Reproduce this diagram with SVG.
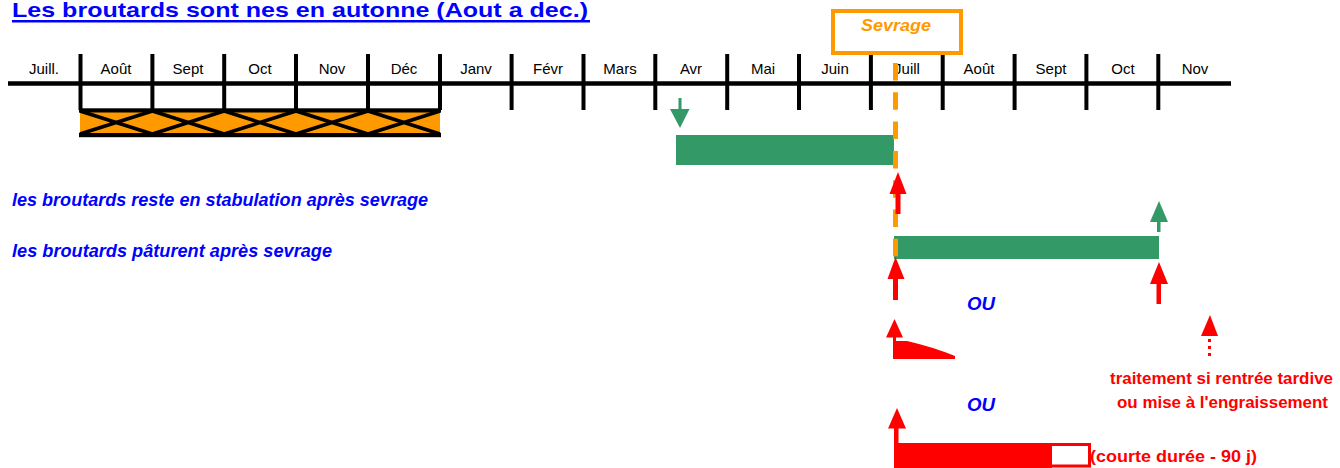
<svg xmlns="http://www.w3.org/2000/svg" width="1340" height="468" viewBox="0 0 1340 468">
  <style>
    .month { font-family: "Liberation Sans", Arial, sans-serif; font-size: 15px; fill: #000; text-anchor: middle; }
    .tick { stroke: #000; stroke-width: 4; }
    .blue { font-family: "Liberation Sans", Arial, sans-serif; font-style: italic; font-weight: bold; fill: #0000FF; }
    .red { font-family: "Liberation Sans", Arial, sans-serif; font-weight: bold; fill: #FF0000; }
    .redfill { fill: #FF0000; }
    .greenfill { fill: #339966; }
    .hatch { stroke: #000; stroke-width: 3.5; fill: none; }
  </style>

  <rect width="1340" height="468" fill="#FFFFFF"/>

  <!-- title -->
  <g id="title">
    <text x="12" y="17" font-family="'Comic Sans MS', 'Liberation Sans', sans-serif" font-weight="bold" font-size="21" fill="#0000FF" textLength="576" lengthAdjust="spacingAndGlyphs">Les broutards sont nes en autonne (Aout a dec.)</text>
    <rect x="12" y="20" width="578" height="2.5" fill="#0000FF"/>
  </g>

  <!-- month timeline -->
  <g id="timeline">
    <line x1="8" y1="83.5" x2="1231" y2="83.5" stroke="#000" stroke-width="4.5"/>
    <g class="tick">
      <line x1="80.5" y1="54" x2="80.5" y2="110"/>
      <line x1="152.4" y1="54" x2="152.4" y2="110"/>
      <line x1="224.2" y1="54" x2="224.2" y2="110"/>
      <line x1="296" y1="54" x2="296" y2="110"/>
      <line x1="368" y1="54" x2="368" y2="110"/>
      <line x1="440" y1="54" x2="440" y2="110"/>
      <line x1="511.6" y1="54" x2="511.6" y2="110"/>
      <line x1="583.5" y1="54" x2="583.5" y2="110"/>
      <line x1="655.3" y1="54" x2="655.3" y2="110"/>
      <line x1="727.2" y1="54" x2="727.2" y2="110"/>
      <line x1="799" y1="54" x2="799" y2="110"/>
      <line x1="870.9" y1="54" x2="870.9" y2="110"/>
      <line x1="942.7" y1="54" x2="942.7" y2="110"/>
      <line x1="1014.6" y1="54" x2="1014.6" y2="110"/>
      <line x1="1086.4" y1="54" x2="1086.4" y2="110"/>
      <line x1="1158.3" y1="54" x2="1158.3" y2="110"/>
    </g>
    <text class="month" x="44" y="74">Juill.</text>
    <text class="month" x="116" y="74">Août</text>
    <text class="month" x="188" y="74">Sept</text>
    <text class="month" x="260" y="74">Oct</text>
    <text class="month" x="332" y="74">Nov</text>
    <text class="month" x="404" y="74">Déc</text>
    <text class="month" x="476" y="74">Janv</text>
    <text class="month" x="548" y="74">Févr</text>
    <text class="month" x="620" y="74">Mars</text>
    <text class="month" x="691" y="74">Avr</text>
    <text class="month" x="763" y="74">Mai</text>
    <text class="month" x="835" y="74">Juin</text>
    <text class="month" x="907" y="74">Juill</text>
    <text class="month" x="979" y="74">Août</text>
    <text class="month" x="1051" y="74">Sept</text>
    <text class="month" x="1123" y="74">Oct</text>
    <text class="month" x="1195" y="74">Nov</text>
  </g>

  <!-- birth period: hatched band Août to Déc -->
  <g id="birth-period">
    <rect x="80" y="110" width="360" height="25" fill="#FF9900"/>
    <path class="hatch" d="M80,111 L152.4,134 M80,134 L152.4,111 M152.4,111 L224.2,134 M152.4,134 L224.2,111 M224.2,111 L296,134 M224.2,134 L296,111 M296,111 L368,134 M296,134 L368,111 M368,111 L440,134 M368,134 L440,111"/>
    <rect x="79" y="108.3" width="362" height="4.2" fill="#000"/>
    <rect x="79" y="133" width="362" height="4.2" fill="#000"/>
  </g>

  <!-- weaning marker -->
  <g id="sevrage">
    <rect x="833" y="11" width="128" height="42" fill="#FFFFFF" stroke="#FF9900" stroke-width="4"/>
    <text x="896" y="31" font-family="'Liberation Sans', Arial, sans-serif" font-style="italic" font-weight="bold" font-size="17" fill="#FF9900" text-anchor="middle" textLength="70" lengthAdjust="spacingAndGlyphs">Sevrage</text>
  </g>

  <!-- labels -->
  <g id="labels">
    <text class="blue" x="12" y="206" font-size="18" textLength="416" lengthAdjust="spacingAndGlyphs">les broutards reste en stabulation après sevrage</text>
    <text class="blue" x="12" y="257" font-size="18" textLength="320" lengthAdjust="spacingAndGlyphs">les broutards pâturent après sevrage</text>
    <text class="blue" x="967" y="310" font-size="19" font-weight="normal" textLength="28" lengthAdjust="spacingAndGlyphs">OU</text>
    <text class="blue" x="967" y="411" font-size="19" font-weight="normal" textLength="28" lengthAdjust="spacingAndGlyphs">OU</text>
    <text class="red" x="1110" y="384" font-size="17" textLength="223" lengthAdjust="spacingAndGlyphs">traitement si rentrée tardive</text>
    <text class="red" x="1117" y="408" font-size="17" textLength="211" lengthAdjust="spacingAndGlyphs">ou mise à l'engraissement</text>
    <text class="red" x="1090" y="462" font-size="17" textLength="167" lengthAdjust="spacingAndGlyphs">(courte durée - 90 j)</text>
  </g>

  <!-- housing period before weaning -->
  <g id="stabulation-bar">
    <rect class="greenfill" x="676" y="135" width="218" height="30"/>
  </g>

  <!-- grazing period after weaning -->
  <g id="paturage-bar">
    <rect class="greenfill" x="894" y="236" width="265" height="23"/>
  </g>

  <!-- tapering treatment -->
  <g id="traitement-degressif">
    <path class="redfill" d="M893,341 L907,341 Q933,347 955,356 L955,359 L893,359 Z"/>
  </g>

  <!-- short-duration treatment -->
  <g id="traitement-court">
    <rect x="895.5" y="444.5" width="194" height="21.5" fill="#FFFFFF" stroke="#FF0000" stroke-width="3"/>
    <rect class="redfill" x="894" y="443" width="158" height="25"/>
  </g>

  <!-- connectors and arrows -->
  <g id="connectors">
    <!-- weaning dashed line -->
    <line x1="895.5" y1="63" x2="895.5" y2="257" stroke="#FF9900" stroke-width="5" stroke-dasharray="17.5 11.8"/>

    <!-- green: start of housing -->
    <rect class="greenfill" x="678.5" y="98" width="3" height="12"/>
    <polygon class="greenfill" points="670,109 689.5,109 680,128"/>

    <!-- red: at weaning, housing -->
    <polygon class="redfill" points="898,172 889.5,194 906.5,194"/>
    <rect class="redfill" x="895.5" y="193" width="5" height="21"/>

    <!-- green: end of grazing -->
    <polygon class="greenfill" points="1159,201 1150,222 1168,222"/>
    <rect class="greenfill" x="1157" y="221" width="3.5" height="11"/>

    <!-- red: at weaning, grazing -->
    <polygon class="redfill" points="895.5,257 887.5,279 904.5,279"/>
    <rect class="redfill" x="893" y="278" width="5" height="22"/>

    <!-- red: at housing -->
    <polygon class="redfill" points="1159,262 1150,284 1168,284"/>
    <rect class="redfill" x="1156.5" y="283" width="4.5" height="21"/>

    <!-- red: tapering treatment start -->
    <polygon class="redfill" points="894.5,319 886,337.5 903,337.5"/>
    <rect class="redfill" x="893" y="337" width="3" height="5"/>

    <!-- red dotted: late housing -->
    <polygon class="redfill" points="1210,315 1201,336 1218,336"/>
    <line x1="1209.5" y1="339" x2="1209.5" y2="360" stroke="#FF0000" stroke-width="3" stroke-dasharray="3 4"/>

    <!-- red: short treatment start -->
    <polygon class="redfill" points="897,408 888,428.5 906,428.5"/>
    <rect class="redfill" x="894" y="428" width="4.5" height="16"/>
  </g>
</svg>
